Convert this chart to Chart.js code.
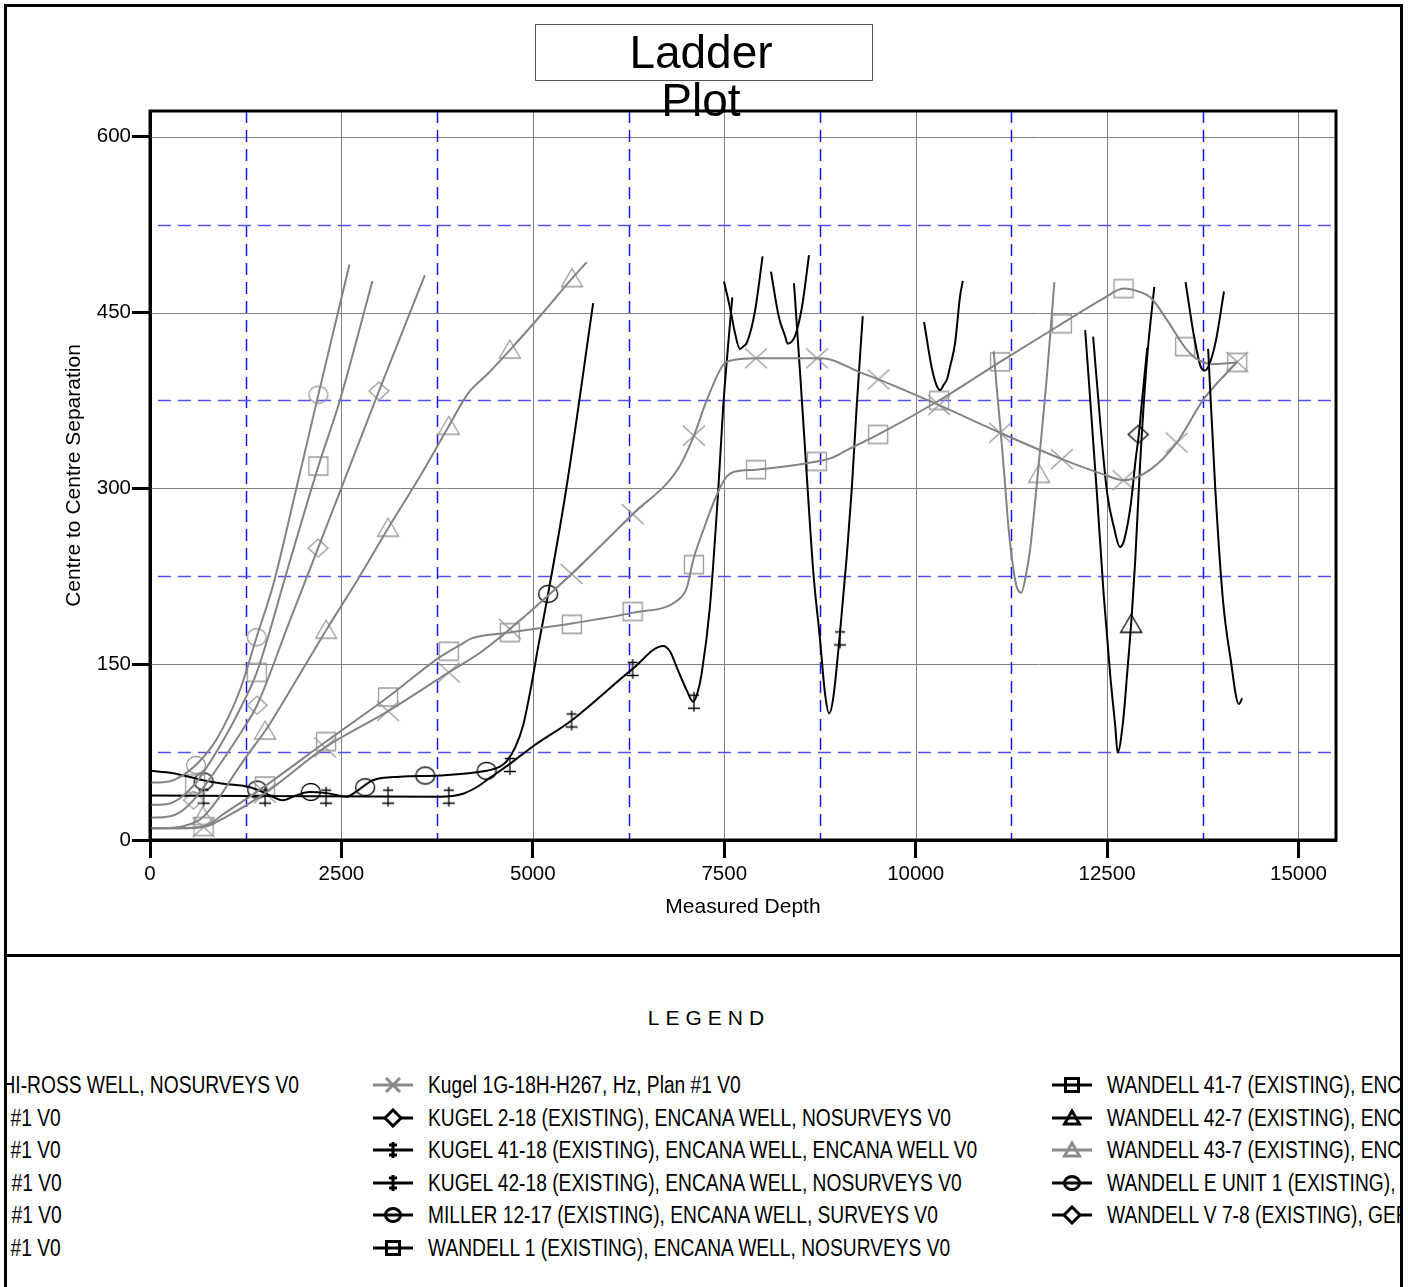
<!DOCTYPE html>
<html>
<head>
<meta charset="utf-8"/>
<title>Ladder Plot</title>
<script src="https://cdn.jsdelivr.net/npm/chart.js"></script>
<style>
  body { margin: 0; background: #fff; font-family: "Liberation Sans", Arial, sans-serif; color: #000; }
  #page { position: relative; width: 1408px; height: 1287px; overflow: hidden; }
  #ladder { position: absolute; left: 0; top: 0; z-index: 1; }
  .frame { position: absolute; box-sizing: border-box; border: 3px solid #000; }
  #plotFrame { left: 4px; top: 4px; width: 1399px; height: 953px; }
  #legendFrame { left: 4px; top: 954px; width: 1399px; height: 400px; border-top: none; overflow: hidden; }
  #legendInner { position: absolute; left: -7px; top: -954px; width: 1408px; height: 1287px; }
  #titleBox { position: absolute; left: 535px; top: 24px; width: 338px; height: 57px; box-sizing: border-box; border: 1px solid #555; z-index: 2; }
  #titleText { position: absolute; left: 531px; top: 28px; width: 340px; text-align: center; font-size: 46px; line-height: 48px; z-index: 3; }
  #legendHead { position: absolute; left: 598px; width: 222px; top: 1006px; text-align: center; font-size: 21px; letter-spacing: 6px; line-height: 24px; }
  .entry { position: absolute; height: 24px; width: 1px; white-space: nowrap; }
  .entry svg { position: absolute; left: 0; top: 2px; }
  .entry span { position: absolute; top: 1px; font-size: 23px; line-height: 23px; transform: scaleX(0.835); transform-origin: 0 50%; }
</style>
</head>
<body>
<div id="page">
  <div class="frame" id="plotFrame"></div>
  <canvas id="ladder" width="1408" height="955"></canvas>
  <div id="titleBox"></div>
  <div id="titleText">Ladder<br>Plot</div>
  <div class="frame" id="legendFrame">
    <div id="legendInner">
      <div id="legendHead">LEGEND</div>
    </div>
  </div>
</div>

<script>
// axes
const depthTicks = [0, 2500, 5000, 7500, 10000, 12500, 15000];
const depthMinor = [1250, 3750, 6250, 8750, 11250, 13750];
const sepTicks = [0, 150, 300, 450, 600];
const sepMinor = [75, 225, 375, 525];
const depthMax = 15490;
const sepMax = 622;

// wells: [measured depth, centre to centre separation]
const holloway17 = [[13820,419],[13913,300],[14013,205],[14112,155],[14221,116],[14265,121]];

const kugel1A = [[0,49],[250,50],[400,54],[600,64],[870,86],[1175,128],[1392,173],[1610,218],[1915,301],[2199,380],[2605,491]];
const kugel1AMarks = [[600,64],[1392,173],[2199,380]];

const kugel1B = [[0,30],[250,31],[400,36],[590,48],[800,68],[1000,90],[1200,115],[1395,143],[1805,233],[2199,319],[2480,375],[2905,477]];
const kugel1BMarks = [[590,48],[1395,143],[2199,319]];

const kugel1C = [[0,19],[250,20],[400,24],[568,34],[800,54],[1000,73],[1200,93],[1398,115],[1808,184],[2195,249],[2610,319],[2990,383],[3590,482]];
const kugel1CMarks = [[568,34],[1398,115],[2195,249],[2990,383]];

const kugel1D = [[0,10],[300,10.5],[450,12],[675,18.5],[900,36],[1100,56],[1300,75],[1503,93],[1908,136],[2300,179],[2712,222],[3110,266],[3515,309],[3902,353],[4155,381],[4415,398],[4700,418],[5120,449],[5510,479],[5705,493]];
const kugel1DMarks = [[690,20],[1503,93],[2300,179],[3110,266],[3902,353],[4700,418],[5510,479]];

const kugel1E = [[0,10],[400,10],[697,11.5],[1000,24],[1503,46],[2300,84],[3110,122],[3785,156],[4065,167],[4200,172],[4700,177],[5525,185],[6310,194],[6900,205],[7010,215],[7095,239],[7230,265],[7400,294],[7530,310],[7620,314],[7915,316],[8710,323],[8905,326],[9140,334],[9515,346],[10306,375],[11103,408],[11910,440.5],[12450,462],[12715,470.5],[12910,468],[13065,463],[13280,444],[13520,420],[13660,411],[13890,406],[14200,407.5]];
const kugel1EMarks = [[700,11.5],[1503,46],[2300,84],[3110,122],[3902,161],[4700,177],[5510,184],[6304,195],[7104,235],[7915,316],[8710,323],[9510,346],[10306,375],[11103,408],[11910,440.5],[12715,470.5],[13520,421],[14200,407.5]];

const kugel1G = [[0,10],[400,10],[697,11],[1000,20],[1503,40],[2287,79],[3110,110],[3902,143],[4315,160],[4700,180],[5506,227],[6304,278],[6900,317],[7104,345],[7270,375],[7487,405.5],[7620,409.5],[7915,411],[8712,411],[8882,410],[9274,399],[9515,393],[10306,371],[11103,347.5],[11909,325],[12453,312],[12714,307],[13065,316],[13410,339],[13760,376],[14200,408]];
const kugel1GMarks = [[700,11],[1503,40],[2287,79],[3110,110],[3902,143],[4700,180],[5506,227],[6304,278],[7104,345],[7915,411],[8712,411],[9515,393],[10306,371],[11103,347.5],[11909,325],[12714,307],[13410,339],[14200,408]];

const kugel2_18 = [[7496,476.5],[7552,461],[7597,447],[7640,432.5],[7705,419],[7748,421],[7800,425],[7901,451],[8001,498]];

const kugel41_18 = [[0,38],[3785,37],[4089,39.5],[4265,45],[4438,53],[4700,65],[5004,80],[5506,102],[6304,146],[6703,165.6],[6790,161],[6895,145],[7008,128],[7095,118],[7148,125],[7205,142],[7313,199],[7422,299],[7487,370],[7605,463]];
const kugel41_18Marks = [[700,37],[1503,37],[2300,37],[3110,37],[3902,37],[4700,64],[5506,102],[6304,146],[7104,118]];

const kugel42_18 = [[8411,475],[8490,399],[8576,313],[8664,228],[8751,171],[8816,125],[8869,108],[8921,120],[9012,177],[9100,242],[9165,299],[9230,370],[9309,447]];
const kugel42_18Marks = [[9012,172]];

const miller12_17 = [[0,59],[300,57],[693,51],[955,48],[1305,45],[1505,40],[1735,34],[1905,38],[2085,41],[2305,40],[2567,37],[2708,42],[2910,51],[3260,54],[3785,55],[4396,59],[4570,62.5],[4657,67],[4770,79],[4870,97],[4970,128],[5070,165],[5200,210],[5440,301],[5788,458]];
const miller12_17Marks = [[700,50],[1400,43],[2100,41],[2810,45],[3595,55],[4396,59],[5200,210]];

const wandell1 = [[8110,485],[8214,446],[8294,430],[8328,423.5],[8384,425.5],[8425,430],[8516,455],[8607,499]];

const wandell41_7 = [[10110,442],[10210,403],[10273,388],[10319,384],[10363,388],[10414,394],[10450,404],[10515,424],[10580,464],[10616,477]];

const wandell42_7 = [[12214,435],[12367,296],[12455,210],[12542,140],[12607,97],[12638,74.5],[12707,100],[12760,140],[12825,194],[12868,239],[12934,324],[13021,410],[13117,472]];
const wandell42_7Marks = [[12815,184]];

const wandell43_7 = [[11020,417],[11060,385],[11105,353],[11160,310],[11212,267],[11270,234],[11320,216],[11380,211],[11440,226],[11495,248],[11550,282],[11605,319],[11660,357],[11713,395],[11812,476]];
const wandell43_7Marks = [[11612,312]];

const wandellEUnit1 = [[13525,476],[13635,430],[13722,404],[13774,400.5],[13830,405],[13918,425],[14027,468]];

const wandellV7_8 = [[12318,429.5],[12415,353],[12501,296],[12589,267],[12668,250],[12719,255],[12807,285],[12872,324],[12915,346],[12958,376],[13025,420]];
const wandellV7_8Marks = [[12907,346]];

const GRAY = '#838383';
const GRAY_MARK = '#999999';
const BLACK = '#000000';

const series = [
  { name: 'HOLLOWAY 17 (EXISTING), HI-ROSS WELL, NOSURVEYS V0', pts: holloway17, color: BLACK, shape: 'square' },
  { name: 'Kugel 1A-18H-H267, Hz, Plan #1 V0', pts: kugel1A, marks: kugel1AMarks, color: GRAY, shape: 'circle' },
  { name: 'Kugel 1B-18H-H267, Hz, Plan #1 V0', pts: kugel1B, marks: kugel1BMarks, color: GRAY, shape: 'square' },
  { name: 'Kugel 1C-18H-H267, Hz, Plan #1 V0', pts: kugel1C, marks: kugel1CMarks, color: GRAY, shape: 'diamond' },
  { name: 'Kugel 1D-18H-H267, Hz, Plan #1 V0', pts: kugel1D, marks: kugel1DMarks, color: GRAY, shape: 'triangle' },
  { name: 'Kugel 1E-18H-H267, Hz, Plan #1 V0', pts: kugel1E, marks: kugel1EMarks, color: GRAY, shape: 'square' },
  { name: 'Kugel 1G-18H-H267, Hz, Plan #1 V0', pts: kugel1G, marks: kugel1GMarks, color: GRAY, shape: 'x' },
  { name: 'KUGEL 2-18 (EXISTING), ENCANA WELL, NOSURVEYS V0', pts: kugel2_18, color: BLACK, shape: 'diamond' },
  { name: 'KUGEL 41-18 (EXISTING), ENCANA WELL, ENCANA WELL V0', pts: kugel41_18, marks: kugel41_18Marks, color: BLACK, shape: 'dagger' },
  { name: 'KUGEL 42-18 (EXISTING), ENCANA WELL, NOSURVEYS V0', pts: kugel42_18, marks: kugel42_18Marks, color: BLACK, shape: 'dagger' },
  { name: 'MILLER 12-17 (EXISTING), ENCANA WELL, SURVEYS V0', pts: miller12_17, marks: miller12_17Marks, color: BLACK, shape: 'circle' },
  { name: 'WANDELL 1 (EXISTING), ENCANA WELL, NOSURVEYS V0', pts: wandell1, color: BLACK, shape: 'square' },
  { name: 'WANDELL 41-7 (EXISTING), ENCANA WELL, NOSURVEYS V0', pts: wandell41_7, color: BLACK, shape: 'square' },
  { name: 'WANDELL 42-7 (EXISTING), ENCANA WELL, NOSURVEYS V0', pts: wandell42_7, marks: wandell42_7Marks, color: BLACK, shape: 'triangle' },
  { name: 'WANDELL 43-7 (EXISTING), ENCANA WELL, NOSURVEYS V0', pts: wandell43_7, marks: wandell43_7Marks, color: GRAY, shape: 'triangle' },
  { name: 'WANDELL E UNIT 1 (EXISTING), ENCANA WELL, NOSURVEYS V0', pts: wandellEUnit1, color: BLACK, shape: 'circle' },
  { name: 'WANDELL V 7-8 (EXISTING), GERRITY WELL, NOSURVEYS V0', pts: wandellV7_8, marks: wandellV7_8Marks, color: BLACK, shape: 'diamond' }
];

// small canvases used as point styles
function markerCanvas(shape, color) {
  const c = document.createElement('canvas');
  c.width = 28; c.height = 28;
  const g = c.getContext('2d');
  g.translate(14, 14);
  g.strokeStyle = color;
  g.lineWidth = 1.3;
  g.beginPath();
  if (shape === 'circle') g.ellipse(0, 0, 9.5, 8.5, 0, 0, Math.PI * 2);
  else if (shape === 'square') g.rect(-9.5, -9, 19, 18);
  else if (shape === 'diamond') { g.moveTo(0, -9); g.lineTo(10, 0); g.lineTo(0, 9); g.lineTo(-10, 0); g.closePath(); }
  else if (shape === 'triangle') { g.moveTo(0, -10); g.lineTo(10.5, 8); g.lineTo(-10.5, 8); g.closePath(); }
  else if (shape === 'x') { g.moveTo(-11, -10); g.lineTo(11, 10); g.moveTo(11, -10); g.lineTo(-11, 10); }
  else if (shape === 'dagger') { g.moveTo(0, -10); g.lineTo(0, 10); g.moveTo(-5, -6.5); g.lineTo(5, -6.5); g.moveTo(-6, 6.5); g.lineTo(6, 6.5); }
  g.stroke();
  return c;
}

const toXY = arr => arr.map(([x, y]) => ({ x: x, y: y }));

const datasets = [];
series.forEach(s => {
  datasets.push({
    label: s.name,
    data: toXY(s.pts),
    borderColor: s.color,
    borderWidth: 2,
    pointRadius: 0,
    cubicInterpolationMode: 'monotone',
    fill: false
  });
});
series.filter(s => s.marks).forEach(s => {
  datasets.push({
    label: s.name + ' markers',
    data: toXY(s.marks),
    showLine: false,
    pointStyle: markerCanvas(s.shape, s.color === GRAY ? GRAY_MARK : BLACK),
    pointRadius: 10,
    pointHoverRadius: 10
  });
});

const GRID_GRAY = '#808080';
const GRID_BLUE_V = 'rgb(20,20,255)';
const GRID_BLUE_H = 'rgb(80,80,255)';
const onList = (list, v) => list.some(t => Math.abs(t - v) < 1e-6);

function axis(majors, minors, max, extra) {
  const all = majors.concat(minors).sort((a, b) => a - b);
  return Object.assign({
    type: 'linear',
    min: 0,
    max: max,
    afterBuildTicks: scale => { scale.ticks = all.map(v => ({ value: v })); },
    ticks: {
      autoSkip: false,
      maxRotation: 0,
      color: '#000',
      font: { size: 20.5 },
      callback: v => onList(majors, v) ? String(v) : ''
    },
    grid: {
      drawOnChartArea: false,
      tickLength: 18,
      tickWidth: 3,
      tickColor: c => (c.tick && onList(majors, c.tick.value)) ? '#000' : 'rgba(0,0,0,0)'
    },
    border: { display: true, color: '#000', width: 3 }
  }, extra);
}

const xAxis = axis(depthTicks, depthMinor, depthMax, {
  afterFit: scale => { scale.height = 110; },
  title: { display: true, text: 'Measured Depth', color: '#000', font: { size: 21 }, padding: { top: 0, bottom: 30 } }
});
xAxis.ticks.padding = 4;

const yAxis = axis(sepTicks, sepMinor, sepMax, {
  afterFit: scale => { scale.width = 150; },
  title: { display: true, text: 'Centre to Centre Separation', color: '#000', font: { size: 21 }, padding: { top: 62, bottom: 0 } }
});
yAxis.ticks.padding = 1;

// grid: solid gray on labelled values, dashed blue half way between
const gridLines = {
  id: 'gridLines',
  beforeDatasetsDraw(chart) {
    const { ctx, chartArea: a, scales: { x, y } } = chart;
    ctx.save();
    const line = (x1, y1, x2, y2, color, width, dash) => {
      ctx.strokeStyle = color;
      ctx.lineWidth = width;
      ctx.setLineDash(dash);
      ctx.beginPath();
      ctx.moveTo(x1, y1);
      ctx.lineTo(x2, y2);
      ctx.stroke();
    };
    depthTicks.forEach(v => {
      const px = Math.round(x.getPixelForValue(v)) + 0.5;
      line(px, a.top, px, a.bottom, GRID_GRAY, 1, []);
    });
    sepTicks.forEach(v => {
      const py = Math.round(y.getPixelForValue(v)) + 0.5;
      line(a.left, py, a.right, py, GRID_GRAY, 1, []);
    });
    depthMinor.forEach(v => {
      const px = Math.round(x.getPixelForValue(v)) + 0.5;
      line(px, a.top, px, a.bottom, GRID_BLUE_V, 1.5, [12, 7]);
    });
    sepMinor.forEach(v => {
      const py = Math.round(y.getPixelForValue(v)) + 0.5;
      line(a.left + 8, py, a.right, py, GRID_BLUE_H, 1.5, [13, 7]);
    });
    ctx.restore();
  },
  afterDatasetsDraw(chart) {
    const { ctx, chartArea: a } = chart;
    ctx.save();
    ctx.strokeStyle = '#000';
    ctx.lineWidth = 3;
    ctx.strokeRect(a.left, a.top, a.right - a.left, a.bottom - a.top);
    ctx.restore();
  }
};

Chart.defaults.font.family = "'Liberation Sans', Arial, sans-serif";

new Chart(document.getElementById('ladder'), {
  type: 'line',
  data: { datasets: datasets },
  options: {
    responsive: false,
    animation: false,
    events: [],
    layout: { padding: { left: 0, top: 111, right: 72, bottom: 5 } },
    plugins: { legend: { display: false }, tooltip: { enabled: false }, title: { display: false } },
    scales: { x: xAxis, y: yAxis }
  },
  plugins: [gridLines]
});

// legend below the plot, three columns
function symbolSvg(shape, color) {
  let m = '';
  if (shape === 'x') m = '<path d="M14 3 L28 17 M28 3 L14 17"/>';
  else if (shape === 'diamond') m = '<path d="M21 2 L29 10 L21 18 L13 10 Z" fill="#fff"/>';
  else if (shape === 'dagger') m = '<path d="M21 2 V18 M17 5 H25 M17 15 H25"/>';
  else if (shape === 'circle') m = '<ellipse cx="21" cy="10" rx="7.5" ry="6.5"/>';
  else if (shape === 'square') m = '<rect x="14.5" y="3.5" width="13" height="13"/>';
  else if (shape === 'triangle') m = '<path d="M21 3 L28.5 16 L13.5 16 Z"/>';
  return '<svg width="44" height="20"><g stroke="' + color + '" stroke-width="3" fill="none"><path d="M1 10 H41"/>' + m + '</g></svg>';
}

const legendColumns = [series.slice(0, 6), series.slice(6, 12), series.slice(12)];
const legendSymbolX = [-306, 372, 1051];
const legendTextGap = 56;
const legendRowY = 1085;
const legendRowStep = 32.6;
const inner = document.getElementById('legendInner');
legendColumns.forEach((col, ci) => {
  col.forEach((s, ri) => {
    const e = document.createElement('div');
    e.className = 'entry';
    e.style.left = legendSymbolX[ci] + 'px';
    e.style.top = (legendRowY + ri * legendRowStep - 12) + 'px';
    e.innerHTML = symbolSvg(s.shape, s.color === GRAY ? '#8a8a8a' : '#000') +
      '<span style="left:' + legendTextGap + 'px">' + s.name + '</span>';
    inner.appendChild(e);
  });
});
</script>
</body>
</html>
